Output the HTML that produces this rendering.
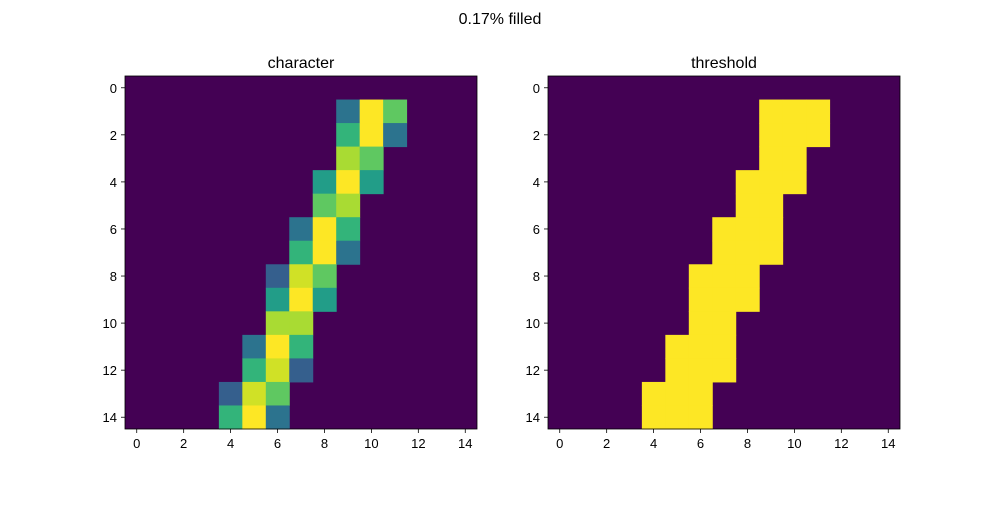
<!DOCTYPE html>
<html><head><meta charset="utf-8"><style>
body{margin:0;background:#fff;}
svg text{font-family:"Liberation Sans","DejaVu Sans",sans-serif;fill:#000;}
</style></head><body>
<svg id="chart" width="1000" height="500">
<text x="500" y="24" font-size="16" text-anchor="middle">0.17% filled</text>
</svg>
<script>
const rows = [1,1,1,2,2,2,3,3,4,4,4,5,5,6,6,6,7,7,7,8,8,8,9,9,9,10,10,11,11,11,12,12,12,13,13,13,14,14,14];
const cols = [9,10,11,9,10,11,9,10,8,9,10,8,9,7,8,9,7,8,9,6,7,8,6,7,8,6,7,5,6,7,5,6,7,4,5,6,4,5,6];
const vals = [0.38,1,0.75,0.65,1,0.38,0.87,0.75,0.55,1,0.55,0.75,0.87,0.38,1,0.65,0.65,1,0.38,0.3,0.93,0.75,0.55,1,0.55,0.87,0.87,0.38,1,0.65,0.65,0.93,0.3,0.3,0.93,0.75,0.65,1,0.38];
const ticks = [0,2,4,6,8,10,12,14];
const N = 15;
const stops = [[0,'#440154'],[0.1,'#482475'],[0.2,'#414487'],[0.3,'#355f8d'],[0.4,'#2a788e'],[0.5,'#21918c'],[0.6,'#22a884'],[0.7,'#44bf70'],[0.8,'#7ad151'],[0.9,'#bddf26'],[1,'#fde725']];
function hex(h){return [1,3,5].map(i=>parseInt(h.substr(i,2),16));}
function viridis(v){
  for(let i=1;i<stops.length;i++){ if(v<=stops[i][0]){const a=stops[i-1],b=stops[i],t=(v-a[0])/(b[0]-a[0]);const ca=hex(a[1]),cb=hex(b[1]);return 'rgb('+ca.map((c,k)=>Math.round(c+(cb[k]-c)*t)).join(',')+')';}}
  return stops[stops.length-1][1];
}
const svg = document.getElementById('chart');
const NS='http://www.w3.org/2000/svg';
function mk(tag,attrs,parent){const e=document.createElementNS(NS,tag);for(const k in attrs)e.setAttribute(k,attrs[k]);(parent||svg).appendChild(e);return e;}
function drawPanel(x0,title,thresh,name){
  const y0=76,w=352,h=353,cw=w/N,ch=h/N;
  const xs=i=>x0+i*cw, ys=j=>y0+j*ch;
  const g=mk('g',{});
  
  
  const bg=mk('rect',{x:x0,y:y0,width:w,height:h,fill:'#440154'},g);
  
  
  for(let k=0;k<vals.length;k++){
    const v=thresh?(vals[k]>0?1:0):vals[k];
    const r=mk('rect',{x:xs(cols[k]),y:ys(rows[k]),width:cw+0.5,height:ch+0.5,fill:viridis(v)},g);
    
    
  }
  const fr=mk('rect',{x:x0,y:y0,width:w,height:h,fill:'none',stroke:'#000','stroke-width':0.8},g);
  
  
  ticks.forEach(t=>{
    const cx=xs(t+0.5), cy=ys(t+0.5);
    mk('line',{x1:cx,y1:y0+h,x2:cx,y2:y0+h+4,stroke:'#000','stroke-width':0.8},g);
    const tx=mk('text',{x:cx,y:y0+h+19,'font-size':13,'text-anchor':'middle'},g);tx.textContent=t;
    
    
    mk('line',{x1:x0-4,y1:cy,x2:x0,y2:cy,stroke:'#000','stroke-width':0.8},g);
    const ty=mk('text',{x:x0-8,y:cy+5,'font-size':13,'text-anchor':'end'},g);ty.textContent=t;
    
    
  });
  const tt=mk('text',{x:x0+w/2,y:68,'font-size':16,'text-anchor':'middle'},g);tt.textContent=title;
  
  
}
drawPanel(125,'character',false,'character');
drawPanel(548,'threshold',true,'threshold');
</script>
</body></html>
